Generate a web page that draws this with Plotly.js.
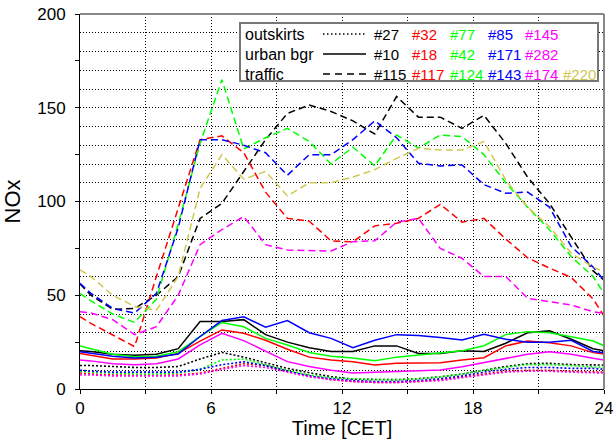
<!DOCTYPE html>
<html>
<head>
<meta charset="utf-8">
<script src="https://cdn.plot.ly/plotly-3.0.1.min.js"></script>
<style>html,body{margin:0;padding:0;background:#fff;}#chart{width:616px;height:439px;}</style>
</head>
<body>
<div id="chart"></div>
<script>
// x positions (hours, CET)
const hours = [0, 0.5, 1.5, 2.5, 3.5, 4.5, 5.5, 6.5, 7.5, 8.5, 9.5, 10.5, 11.5, 12.5, 13.5, 14.5, 15.5, 16.5, 17.5, 18.5, 19.5, 20.5, 21.5, 22.5, 23.5, 24];

// outskirts (dotted)
const out27  = [12.5, 12.5, 12, 11.5, 11.5, 12, 16, 19.5, 17, 14, 11, 8.7, 6.6, 5.2, 5, 5, 5.5, 6.5, 8, 10, 12, 13.5, 13.7, 13, 12.8, 12.8];
const out32  = [8.5, 8, 7.5, 7.5, 7.5, 7.5, 8.5, 11, 13.5, 12.5, 9.5, 7, 5, 4, 3.5, 3.5, 4, 5, 6.5, 8, 9.5, 10, 10, 9.5, 9, 9];
const out77  = [9.5, 9, 8.5, 8, 8, 8.5, 10.5, 15.5, 16, 13, 10, 7.5, 6, 5.5, 5, 5, 5.5, 6.5, 8, 10, 11.5, 13, 13, 12.5, 12, 11.5];
const out85  = [10, 9.5, 9, 9, 9, 9, 10.5, 13, 14.5, 12.5, 9.5, 7, 5.5, 4.5, 4, 4, 4.5, 5.5, 7, 9, 10.5, 11.5, 11.5, 11, 11, 10.5];
const out145 = [7.5, 7.5, 7, 7, 7, 7, 8, 10.5, 12.5, 11.5, 9, 6.5, 5, 4, 3.5, 3.5, 4, 4.5, 6, 7.5, 9, 9.5, 9.5, 9, 8.5, 8.5];

// urban background (solid)
const urb10  = [20.4, 20, 18.5, 18, 18.5, 21.5, 36, 36, 37, 29, 25, 22, 20, 20, 23, 23, 19, 19, 20.4, 20, 24.4, 30, 31, 26.5, 21.5, 20.4];
const urb18  = [19, 18, 16, 16, 16.5, 19, 25.5, 31.5, 29.7, 26, 21.2, 17, 15.5, 14.5, 12.8, 13.7, 14, 14, 15.5, 16.7, 23, 25.6, 24.7, 23, 19.4, 18.7];
const urb42  = [23, 21.5, 18.5, 17.2, 17.5, 19.9, 28, 35.5, 33.2, 27, 23.5, 19.5, 17.5, 16.5, 15.1, 17, 18, 19, 20.4, 23.1, 29, 30.6, 30, 27.9, 25.6, 23.1];
const urb171 = [19.9, 19, 17.5, 16.5, 17, 18.7, 28, 36.5, 38.5, 33, 36.5, 30, 27, 22, 26, 29, 28.5, 27.5, 26.1, 29.2, 26.5, 25, 25, 26, 20, 19.4];
const urb282 = [15.5, 15, 13.5, 13, 13.5, 16, 23.5, 29.7, 25.8, 20, 14.6, 12, 10, 8.5, 8.9, 9, 9.8, 10.1, 11.9, 14, 16.4, 18.5, 19.9, 18.5, 16.4, 15.5];

// traffic (dashed)
const tr115 = [56, 50, 42.5, 43, 50, 60, 91, 99, 116, 133, 147, 151.5, 148, 143, 136, 156, 145, 145, 139, 146, 131, 113, 99, 81, 63, 58];
const tr117 = [38.6, 35, 28.8, 22.6, 60, 96, 133, 135, 126, 105, 91, 89.5, 79, 78.5, 87, 88.4, 91, 98.5, 89, 91, 80, 70, 64.5, 59.5, 48, 39];
const tr124 = [51, 47, 40, 35.5, 48, 88, 131, 165, 128, 134, 139, 132, 120, 129, 119, 135.5, 128.5, 135.5, 134.6, 125, 110, 97, 85, 70.6, 60, 51];
const tr143 = [56.4, 51, 43, 40.5, 51, 86, 133, 133, 130, 126, 114, 125, 125, 133, 143, 134, 120.4, 119, 119.5, 109, 104.4, 105, 97, 76, 65, 58];
const tr174 = [41.2, 40.5, 37, 29, 33.2, 50, 77, 85, 92, 77, 74.1, 74, 73.6, 78.6, 79, 89, 91, 75, 69.7, 60, 60, 48.4, 46.6, 44.8, 41.2, 40.4];
const tr220 = [63.5, 60, 50, 44, 42, 60, 107, 125, 112, 116, 103, 110, 110, 113, 117, 123, 128.4, 127.5, 127.5, 132, 111.5, 97, 86.6, 72.4, 65, 62.6];

// tick labels
const xTickVals = [0, 3, 6, 9, 12, 15, 18, 21, 24];
const xTickText = ['0', '', '6', '', '12', '', '18', '', '24'];
const yTickVals = [0, 25, 50, 75, 100, 125, 150, 175, 200];
const yTickText = ['0', '', '50', '', '100', '', '150', '', '200'];

// legend rows
const groupNames = ['outskirts', 'urban bgr', 'traffic'];
const rowLabels = [
  ['#27', '#32', '#77', '#85', '#145'],
  ['#10', '#18', '#42', '#171', '#282'],
  ['#115', '#117', '#124', '#143', '#174', '#220']
];

const C = {k: '#000000', r: '#ff0000', g: '#00ff00', b: '#0000ff', m: '#ff00ff', y: '#d0c850'};
const DOT = '2px,2px', DASH = '7px,4px';

function tr(y, color, dash, w, ax) {
  return {x: hours, y: y, type: 'scatter', mode: 'lines', showlegend: false, hoverinfo: 'skip',
          yaxis: ax || 'y', line: {color: color, width: w, dash: dash}};
}

const data = [
  tr(out27, C.k, DOT, 1.6), tr(out32, C.r, DOT, 1.6), tr(out77, C.g, DOT, 1.6), tr(out85, C.b, DOT, 1.6), tr(out145, C.m, DOT, 1.6, 'y2'),
  tr(urb10, C.k, 'solid', 1.5), tr(urb18, C.r, 'solid', 1.5), tr(urb42, C.g, 'solid', 1.5), tr(urb171, C.b, 'solid', 1.5), tr(urb282, C.m, 'solid', 1.5),
  tr(tr115, C.k, DASH, 1.5), tr(tr117, C.r, DASH, 1.5), tr(tr124, C.g, DASH, 1.5), tr(tr143, C.b, DASH, 1.5), tr(tr174, C.m, DASH, 1.5), tr(tr220, C.y, DASH, 1.5)
];

// layout geometry in paper fraction
const L = 80, R = 604, T = 14, B = 389;
const px = v => (v - L) / (R - L);
const py = v => (B - v) / (B - T);

const font = 'Liberation Sans, Arial, sans-serif';
const shapes = [
  {type: 'line', xref: 'paper', yref: 'paper', x0: 0, x1: 1, y0: 1, y1: 1, line: {color: '#888', width: 2}},
  {type: 'line', xref: 'paper', yref: 'paper', x0: 1, x1: 1, y0: 0, y1: 1, line: {color: '#888', width: 2}},
  {type: 'rect', xref: 'paper', yref: 'paper', x0: px(240), x1: px(598), y0: py(81), y1: py(23),
   fillcolor: '#fff', line: {color: '#777', width: 2}, layer: 'above'}
];
const rowY = [34, 54, 74];
const annotations = [];
const rowColors = [C.k, C.r, C.g, C.b, C.m, C.y];
const colX = [372, 410, 448, 486, 523, 561];
for (let i = 0; i < 3; i++) {
  annotations.push({xref: 'paper', yref: 'paper', x: px(243), y: py(rowY[i]), xanchor: 'left', yanchor: 'middle',
    text: groupNames[i], showarrow: false, font: {family: font, size: 16, color: '#000'}});
  shapes.push({type: 'line', xref: 'paper', yref: 'paper', x0: px(323), x1: px(366), y0: py(rowY[i]), y1: py(rowY[i]),
    line: {color: '#000', width: 1.5, dash: i === 0 ? '1.5px,2.5px' : (i === 1 ? 'solid' : '7px,5px')}, layer: 'above'});
  rowLabels[i].forEach((t, j) => {
    annotations.push({xref: 'paper', yref: 'paper', x: px(colX[j]), y: py(rowY[i]), xanchor: 'left', yanchor: 'middle',
      text: t, showarrow: false, font: {family: font, size: 15, color: rowColors[j]}});
  });
}

const layout = {
  width: 616, height: 439,
  margin: {l: L, r: 616 - R, t: T, b: 439 - B, pad: 0},
  paper_bgcolor: '#fff', plot_bgcolor: '#fff',
  font: {family: font, size: 15, color: '#000'},
  showlegend: false,
  xaxis: {range: [0, 24], tickvals: xTickVals, ticktext: xTickText, ticks: 'outside', ticklen: 4, tickcolor: '#000',
          showgrid: true, gridcolor: '#000', gridwidth: 1, griddash: '1px,2px', zeroline: false,
          showline: true, linecolor: '#000', linewidth: 1, fixedrange: true,
          tickfont: {family: font, size: 17}, ticklabelstandoff: 0,
          title: {text: 'Time [CET]', font: {family: font, size: 20}, standoff: 1}},
  yaxis: {range: [0, 200], dtick: 10, tick0: 0, showticklabels: false, ticks: '', showgrid: true, gridcolor: '#000',
          gridwidth: 1, griddash: '1px,2px', zeroline: false, showline: false, fixedrange: true},
  yaxis2: {range: [0, 200], overlaying: 'y', side: 'left', anchor: 'x', tickvals: yTickVals, ticktext: yTickText,
           ticks: 'outside', ticklen: 4, tickcolor: '#000', showgrid: false, zeroline: false,
           showline: true, linecolor: '#000', linewidth: 1, fixedrange: true,
           tickfont: {family: font, size: 17}, ticklabelstandoff: 6,
           title: {text: 'NOx', font: {family: font, size: 22}, standoff: 10}},
  shapes: shapes,
  annotations: annotations
};

Plotly.newPlot('chart', data, layout, {displayModeBar: false, staticPlot: true});
</script>
</body>
</html>
